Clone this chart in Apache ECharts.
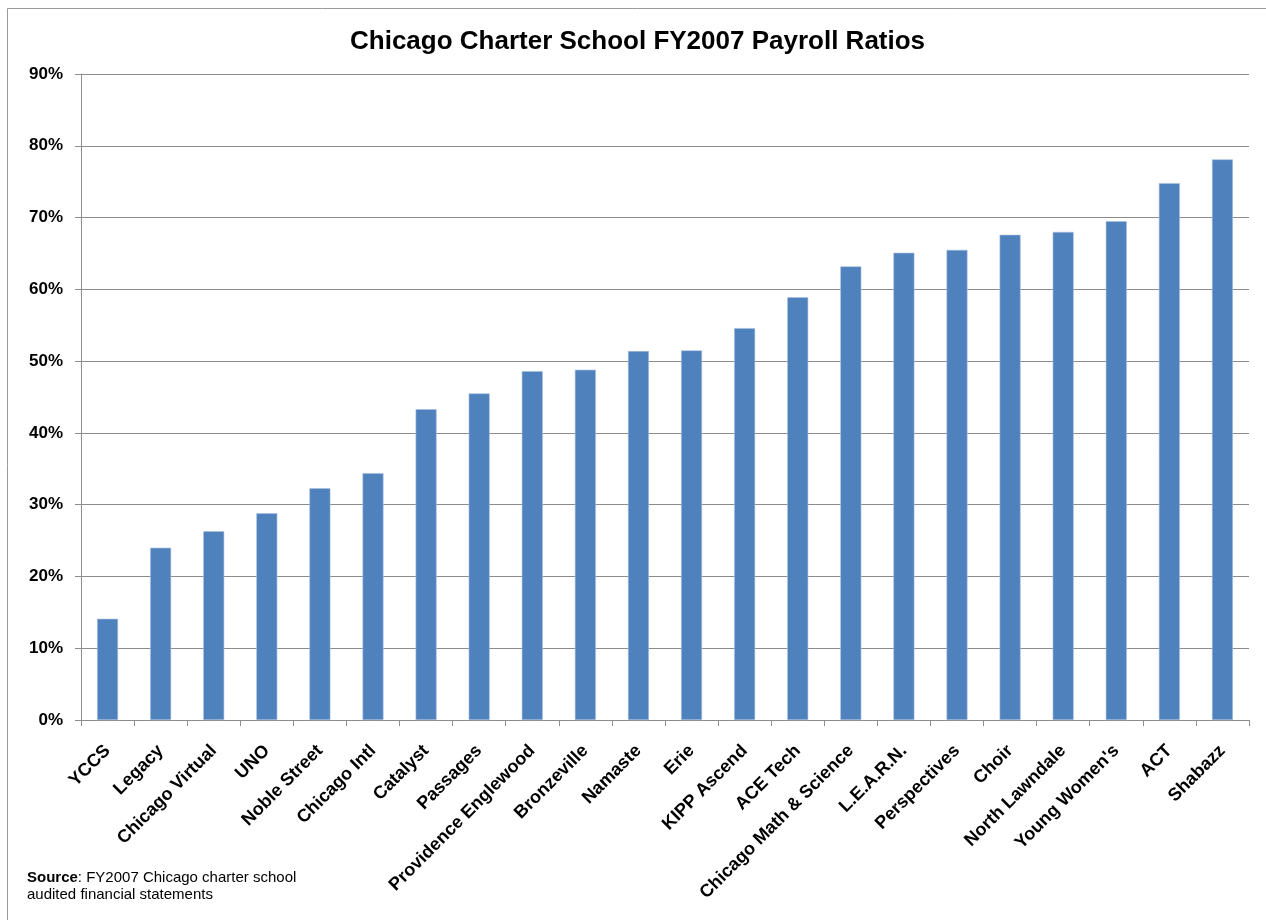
<!DOCTYPE html>
<html>
<head>
<meta charset="utf-8">
<script src="https://cdn.jsdelivr.net/npm/echarts@6/dist/echarts.min.js"></script>
<style>
  html, body { margin: 0; padding: 0; background: #fff; }
  #chart { width: 1266px; height: 920px; }
</style>
</head>
<body>
<div id="chart"></div>
<script>
// schools, sorted by payroll ratio
const schools = [
  'YCCS', 'Legacy', 'Chicago Virtual', 'UNO', 'Noble Street', 'Chicago Intl',
  'Catalyst', 'Passages', 'Providence Englewood', 'Bronzeville', 'Namaste', 'Erie',
  'KIPP Ascend', 'ACE Tech', 'Chicago Math & Science', 'L.E.A.R.N.', 'Perspectives',
  'Choir', 'North Lawndale', "Young Women's", 'ACT', 'Shabazz'
]
// payroll ratio, percent
const payrollRatio = [
  14.1, 24.0, 26.3, 28.8, 32.3, 34.4,
  43.3, 45.5, 48.6, 48.8, 51.4, 51.5,
  54.6, 58.9, 63.2, 65.1, 65.5,
  67.6, 68.0, 69.5, 74.8, 78.1
]
const yTicks = [0, 10, 20, 30, 40, 50, 60, 70, 80, 90]

const chart = echarts.init(document.getElementById('chart'))

const gridColor = '#8c8c8c'

chart.setOption({
  animation: false,
  textStyle: { fontFamily: 'Liberation Sans, Arial, sans-serif' },
  title: {
    text: 'Chicago Charter School FY2007 Payroll Ratios',
    left: 345,
    top: 24,
    textStyle: {
      fontSize: 26,
      fontWeight: 'bold',
      color: '#000'
    }
  },
  graphic: [
    {
      type: 'rect',
      shape: { x: 7.5, y: 8.5, width: 1400, height: 1000 },
      style: { fill: null, stroke: '#9a9a9a', lineWidth: 1 },
      silent: true
    },
    {
      type: 'text',
      left: 27,
      top: 869,
      style: {
        text: '{b|Source}: FY2007 Chicago charter school\naudited financial statements',
        font: '15px Liberation Sans, Arial, sans-serif',
        fill: '#000',
        lineHeight: 17,
        rich: {
          b: { fontWeight: 'bold', fontSize: 15, fontFamily: 'Liberation Sans, Arial, sans-serif' }
        }
      }
    }
  ],
  grid: {
    left: 81,
    right: 17,
    top: 74,
    bottom: 200
  },
  xAxis: {
    type: 'category',
    data: schools,
    axisLine: { lineStyle: { color: gridColor, width: 1 } },
    axisTick: { show: true, length: 6, lineStyle: { color: gridColor } },
    axisLabel: {
      interval: 0,
      rotate: 45,
      margin: 28,
      color: '#000',
      fontSize: 18,
      fontWeight: 'bold'
    }
  },
  yAxis: {
    type: 'value',
    min: yTicks[0],
    max: yTicks[yTicks.length - 1],
    interval: 10,
    axisLine: { show: true, lineStyle: { color: gridColor, width: 1 } },
    axisTick: { show: true, length: 6, lineStyle: { color: gridColor } },
    splitLine: { lineStyle: { color: gridColor, width: 1 } },
    axisLabel: {
      margin: 18,
      color: '#000',
      fontSize: 17,
      fontWeight: 'bold',
      formatter: v => v + '%'
    }
  },
  series: [
    {
      type: 'bar',
      data: payrollRatio,
      barWidth: 21,
      itemStyle: {
        color: '#4f81bd',
        borderColor: '#a9c0df',
        borderWidth: 0.6
      }
    }
  ]
})
</script>
</body>
</html>
